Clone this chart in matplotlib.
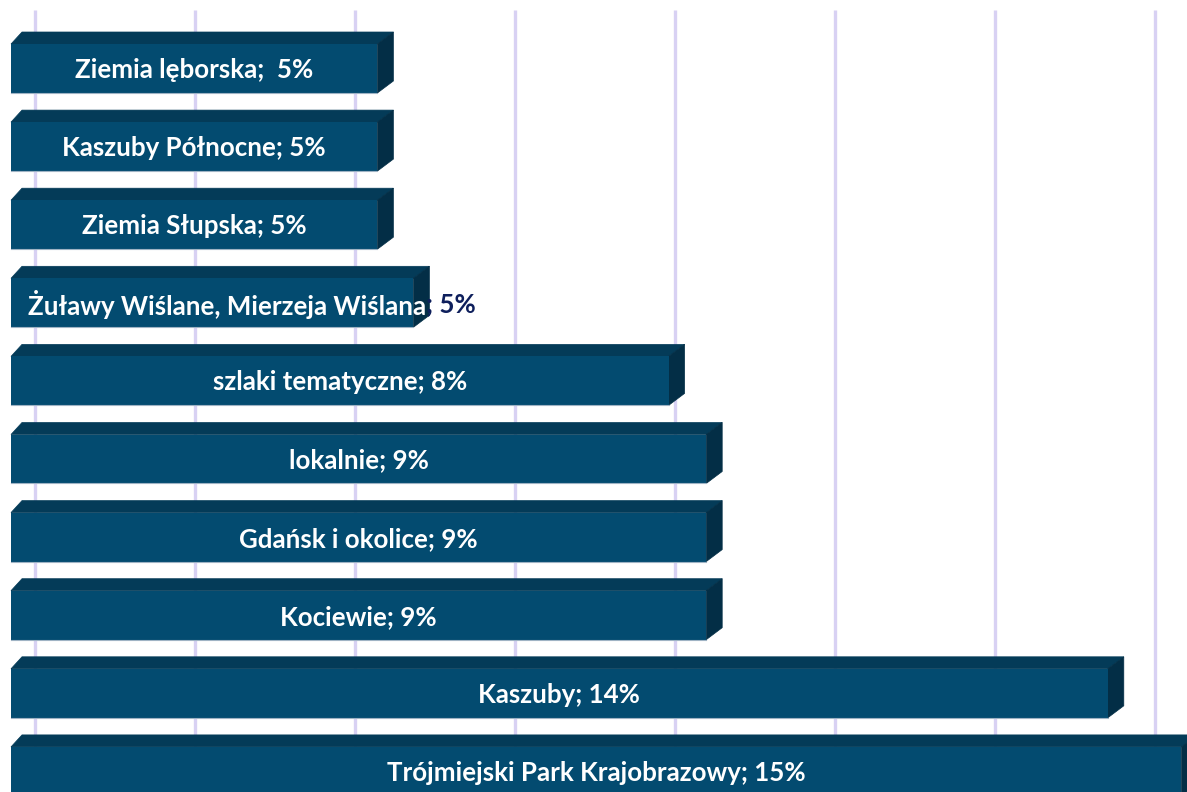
import matplotlib
matplotlib.use("Agg")
import matplotlib.pyplot as plt
from matplotlib.patches import Polygon
from matplotlib.transforms import ScaledTranslation

categories = ["Ziemia lęborska", "Kaszuby Północne", "Ziemia Słupska",
              "Żuławy Wiślane, Mierzeja Wiślana", "szlaki tematyczne", "lokalnie",
              "Gdańsk i okolice", "Kociewie", "Kaszuby", "Trójmiejski Park Krajobrazowy"]
values = [4.58, 4.58, 4.58, 5.03, 8.22, 8.69, 8.69, 8.69, 13.71, 14.63]
value_labels = ["5%", "5%", "5%", "5%", "8%", "9%", "9%", "9%", "14%", "15%"]
separators = [";  ", "; ", "; ", "; ", "; ", "; ", "; ", "; ", "; ", "; "]
grid_ticks = [0, 2, 4, 6, 8, 10, 12, 14]

W, H, DPI = 1187, 792, 100
PX_X = 80.0      # pixels per percent
PX_Y = 78.1      # pixels per category
X0 = 11          # front zero pixel
Y0 = 68.5        # centre of first bar (pixels from top)

FRONT = "#034B70"
TOP = "#043B58"
SIDE = "#032E46"
EDGE = "#9fb3c4"
GRID = "#d8d1f3"
NAVY = "#0e1f5c"

fig = plt.figure(figsize=(W / DPI, H / DPI), dpi=DPI)
ax = fig.add_axes([0, 0, 1, 1])
ax.set_xlim(-X0 / PX_X, (W - X0) / PX_X)
ax.set_ylim((H - Y0) / PX_Y, -Y0 / PX_Y)
ax.axis("off")

# back-wall gridlines (shifted by the 3D depth)
gtrans = ax.get_xaxis_transform() + ScaledTranslation(24 / DPI, 0, fig.dpi_scale_trans)
ax.vlines(grid_ticks, 0, 1 - 10 / H, transform=gtrans, colors=GRID, linewidth=2.4, zorder=1)

bh = 49 / PX_Y
ddx = 16 / PX_X
ddy = 12 / PX_Y
ddx_left = 11 / PX_X

font = dict(family=["Lato", "DejaVu Sans"], fontweight="bold", fontsize=18.6)

for i, (cat, v) in enumerate(zip(categories, values)):
    yt = i - bh / 2
    yb = i + bh / 2
    top = Polygon([(0, yt), (ddx_left, yt - ddy), (v + ddx, yt - ddy), (v, yt)],
                  closed=True, facecolor=TOP, edgecolor=TOP, linewidth=0.5, zorder=3)
    side = Polygon([(v, yt), (v + ddx, yt - ddy), (v + ddx, yb - ddy), (v, yb)],
                   closed=True, facecolor=SIDE, edgecolor=SIDE, linewidth=0.5, zorder=3)
    ax.add_patch(top)
    ax.add_patch(side)
    ax.barh(i, v, height=bh, left=0, color=FRONT, edgecolor="none", zorder=4)
    ax.plot([0, v], [yb, yb], color=EDGE, linewidth=0.8, zorder=5)

    if i == 3:
        t1 = ax.text(17 / PX_X, i + 0.02, cat, color="white", ha="left", va="center",
                     zorder=6, **font)
        ax.annotate(separators[i] + value_labels[i], xy=(1, 0.5), xycoords=t1,
                    ha="left", va="center", color=NAVY, zorder=6, **font)
    else:
        ax.text(v / 2, i + 0.02, cat + separators[i] + value_labels[i], color="white",
                ha="center", va="center", zorder=6, **font)

fig.savefig("out.png", dpi=DPI)
